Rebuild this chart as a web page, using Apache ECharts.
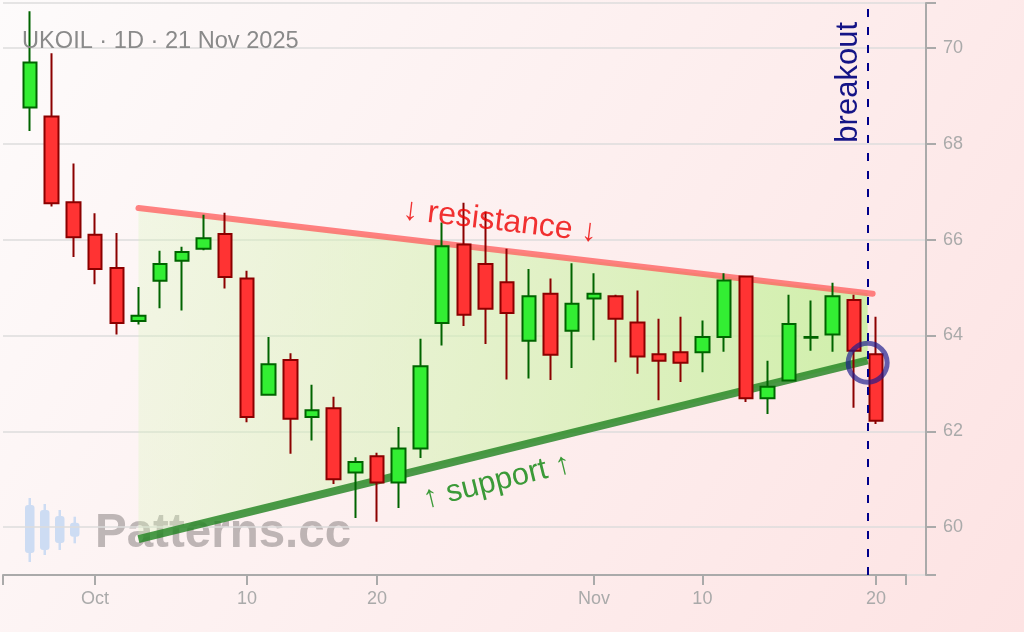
<!DOCTYPE html>
<html>
<head>
<meta charset="utf-8">
<script src="https://cdn.jsdelivr.net/npm/echarts@6/dist/echarts.min.js"></script>
<style>
html,body{margin:0;padding:0;}
#chart{width:1024px;height:632px;}
</style>
</head>
<body>
<div id="chart"></div>
<script>
// ---- data ----
const dates = ['2025-09-26','2025-09-29','2025-09-30','2025-10-01','2025-10-02','2025-10-03','2025-10-06','2025-10-07','2025-10-08','2025-10-09','2025-10-10','2025-10-13','2025-10-14','2025-10-15','2025-10-16','2025-10-17','2025-10-20','2025-10-21','2025-10-22','2025-10-23','2025-10-24','2025-10-27','2025-10-28','2025-10-29','2025-10-30','2025-10-31','2025-11-03','2025-11-04','2025-11-05','2025-11-06','2025-11-07','2025-11-10','2025-11-11','2025-11-12','2025-11-13','2025-11-14','2025-11-17','2025-11-18','2025-11-19','2025-11-20'];
const opens  = [68.76,68.57,66.78,66.10,65.41,64.30,65.14,65.56,65.81,66.12,65.19,62.76,63.49,62.30,62.48,61.14,61.48,60.93,61.64,64.26,65.90,65.49,65.11,63.89,64.87,64.10,64.77,64.82,64.27,63.61,63.65,63.65,63.97,65.23,62.69,63.06,63.95,64.02,64.74,63.61];
const closes = [69.70,66.76,66.05,65.39,64.26,64.41,65.49,65.74,66.03,65.22,62.30,63.40,62.26,62.44,61.00,61.36,60.93,61.64,63.36,65.86,64.43,64.56,64.47,64.82,63.60,64.66,64.87,64.35,63.56,63.47,63.43,63.97,65.15,62.69,62.93,64.24,63.97,64.82,63.68,62.22];
const lows   = [68.27,66.69,65.64,65.07,64.02,64.23,64.57,64.52,65.78,64.98,62.19,62.74,61.53,61.81,60.90,60.19,60.11,60.40,61.44,63.79,64.20,63.82,63.08,63.10,63.07,63.32,63.90,63.44,63.20,62.65,63.03,63.23,63.66,62.61,62.36,63.04,63.68,63.66,62.49,62.15];
const highs  = [70.77,69.89,67.59,66.55,66.14,65.01,65.77,65.85,66.52,66.56,65.35,63.97,63.63,62.97,62.72,61.46,61.55,62.09,63.93,66.36,66.77,66.59,65.81,65.39,65.19,65.51,65.30,64.85,64.94,64.35,64.39,64.31,65.30,65.24,63.47,64.85,64.73,65.10,64.85,64.39];

const xTickDates  = ['2025-10-01','2025-10-10','2025-10-20','2025-11-03','2025-11-10','2025-11-20'];
const xTickLabels = ['Oct','10','20','Nov','10','20'];
const yTickValues = [60,62,64,66,68,70];

// pattern annotations (index along trading days, price)
const resistancePts = [[5, 66.66], [38.85, 64.87]];
const supportPts    = [[5, 59.75], [38.62, 63.48]];
const breakoutIdx   = 38.62;
const breakoutPoint = [38.62, 63.43];
const resistanceLabelPos = [21.67, 66.38];
const supportLabelPos    = [21.53, 60.95];

const titleText = 'UKOIL · 1D · 21 Nov 2025';

// ---- build ----
const xMin = -1.2447, xMaxAxis = 40.388, xMaxGrid = 41.31;
const yMin = 59.0, yMax = 70.94;
const candleData = dates.map((d, i) => [i, opens[i], closes[i], lows[i], highs[i]]);
const xTickIdx = xTickDates.map(d => dates.indexOf(d));
const FONT = '"Liberation Sans", Arial, sans-serif';

// fill polygon: resistance line value at the support end index
const rAtEnd = resistancePts[0][1] + (resistancePts[1][1] - resistancePts[0][1]) * (supportPts[1][0] - resistancePts[0][0]) / (resistancePts[1][0] - resistancePts[0][0]);
const fillPts = [resistancePts[0], [supportPts[1][0], rAtEnd], supportPts[1], supportPts[0]];

const chart = echarts.init(document.getElementById('chart'));
chart.setOption({
  animation: false,
  backgroundColor: {type:'linear', x:0, y:0, x2:1, y2:1, colorStops:[{offset:0,color:'#fdfbfb'},{offset:1,color:'#fde3e3'}]},
  textStyle: {fontFamily: FONT},
  title: {text: titleText, left: 22, top: 29, padding: 0, textStyle: {color:'#8a8a8a', fontSize: 23.6, fontWeight: 'normal', fontFamily: FONT}},
  grid: [
    {left: 3, right: 98, top: 3, bottom: 57},
    {left: 3, right: 118, top: 3, bottom: 57}
  ],
  xAxis: [
    {type:'value', gridIndex:0, min:xMin, max:xMaxGrid, show:false},
    {type:'value', gridIndex:1, min:xMin, max:xMaxAxis,
     axisLine:{show:true, onZero:false, lineStyle:{color:'#aaaaaa', width:2}},
     axisTick:{show:true, length:10, customValues:[xMin].concat(xTickIdx, [xMaxAxis]), lineStyle:{color:'#aaaaaa', width:2}},
     axisLabel:{show:true, customValues:xTickIdx, margin:15, color:'#aaaaaa', fontSize:18, fontFamily:FONT,
                formatter: v => { const k = xTickIdx.indexOf(Math.round(v)); return k >= 0 ? xTickLabels[k] : ''; }},
     splitLine:{show:false}}
  ],
  yAxis: [
    {type:'value', gridIndex:0, position:'right', min:yMin, max:yMax, splitNumber:6,
     axisLine:{show:true, onZero:false, lineStyle:{color:'#aaaaaa', width:2}},
     axisTick:{show:true, length:10, customValues:[yMin].concat(yTickValues, [yMax]), lineStyle:{color:'#aaaaaa', width:2}},
     axisLabel:{show:true, customValues:yTickValues, margin:17, color:'#aaaaaa', fontSize:18, fontFamily:FONT},
     splitLine:{show:true, lineStyle:{color:'#dddddd', width:1.5}}},
    {type:'value', gridIndex:1, min:yMin, max:yMax, show:false}
  ],
  graphic: [
    {type:'rect', shape:{x:28.5, y:498, width:2.5, height:64}, style:{fill:'#cddcf3'}, z:0},
    {type:'rect', shape:{x:25, y:505, width:9.5, height:48, r:3}, style:{fill:'#cddcf3'}, z:0},
    {type:'rect', shape:{x:43.5, y:504, width:2.5, height:51}, style:{fill:'#cddcf3'}, z:0},
    {type:'rect', shape:{x:40, y:510, width:9.5, height:40, r:3}, style:{fill:'#cddcf3'}, z:0},
    {type:'rect', shape:{x:58.5, y:510, width:2.5, height:40}, style:{fill:'#cddcf3'}, z:0},
    {type:'rect', shape:{x:55, y:516, width:9.5, height:27, r:3}, style:{fill:'#cddcf3'}, z:0},
    {type:'rect', shape:{x:73.5, y:516.7, width:2.5, height:26.6}, style:{fill:'#cddcf3'}, z:0},
    {type:'rect', shape:{x:70, y:522.7, width:9.5, height:14, r:3}, style:{fill:'#cddcf3'}, z:0},
    {type:'text', x:95, y:534, style:{text:'Patterns.cc', font:'bold 47.5px "Liberation Sans", Arial, sans-serif', fill:'rgba(120,112,112,0.47)', verticalAlign:'middle'}, z:0}
  ],
  series: [
    {
      type:'custom', xAxisIndex:0, yAxisIndex:0, z:1, silent:true,
      data:[0],
      renderItem: (params, api) => ({
        type:'polygon', shape:{points: fillPts.map(p => api.coord(p))},
        style:{fill:{type:'linear', x:0, y:0, x2:1, y2:0, colorStops:[{offset:0,color:'rgba(215,245,185,0.3)'},{offset:1,color:'rgba(200,240,160,0.85)'}]}}
      })
    },
    {type:'line', xAxisIndex:0, yAxisIndex:0, z:2, data:resistancePts, symbol:'none', silent:true,
     lineStyle:{color:'rgba(255,90,90,0.75)', width:6, cap:'round'}},
    {type:'line', xAxisIndex:0, yAxisIndex:0, z:2, data:supportPts, symbol:'none', silent:true,
     lineStyle:{color:'rgba(30,130,30,0.8)', width:8, cap:'butt'}},
    {
      type:'candlestick', xAxisIndex:0, yAxisIndex:0, z:3,
      data: candleData,
      encode: {x:0, y:[1,2,3,4]},
      barWidth: 14,
      itemStyle: {color:'#33ee33', color0:'#ff3333', borderColor:'#006400', borderColor0:'#8b0000', borderWidth:2},
      markLine: {
        silent:true, symbol:'none', z:4,
        lineStyle:{color:'#00008b', type:[8,10], width:2},
        label:{show:true, formatter:'breakout', position:'insideEndTop', color:'#141486', fontSize:31, fontFamily:FONT, distance:[19, 4]},
        data:[{xAxis: breakoutIdx}]
      }
    },
    {type:'scatter', xAxisIndex:0, yAxisIndex:0, z:6, silent:true, data:[breakoutPoint],
     symbol:'circle', symbolSize:39,
     itemStyle:{color:'rgba(0,0,0,0)', borderColor:'rgba(28,28,140,0.85)', borderWidth:5}},
    {type:'scatter', xAxisIndex:0, yAxisIndex:0, z:5, silent:true, data:[resistanceLabelPos], symbolSize:0,
     label:{show:true, position:'inside', formatter:'↓ resistance ↓', rotate:-6.7, color:'#ee0000', fontSize:32, fontFamily:FONT}},
    {type:'scatter', xAxisIndex:0, yAxisIndex:0, z:5, silent:true, data:[supportLabelPos], symbolSize:0,
     label:{show:true, position:'inside', formatter:'↑ support ↑', rotate:13.8, color:'#0a840a', fontSize:31, fontFamily:FONT}}
  ]
});
</script>
</body>
</html>
